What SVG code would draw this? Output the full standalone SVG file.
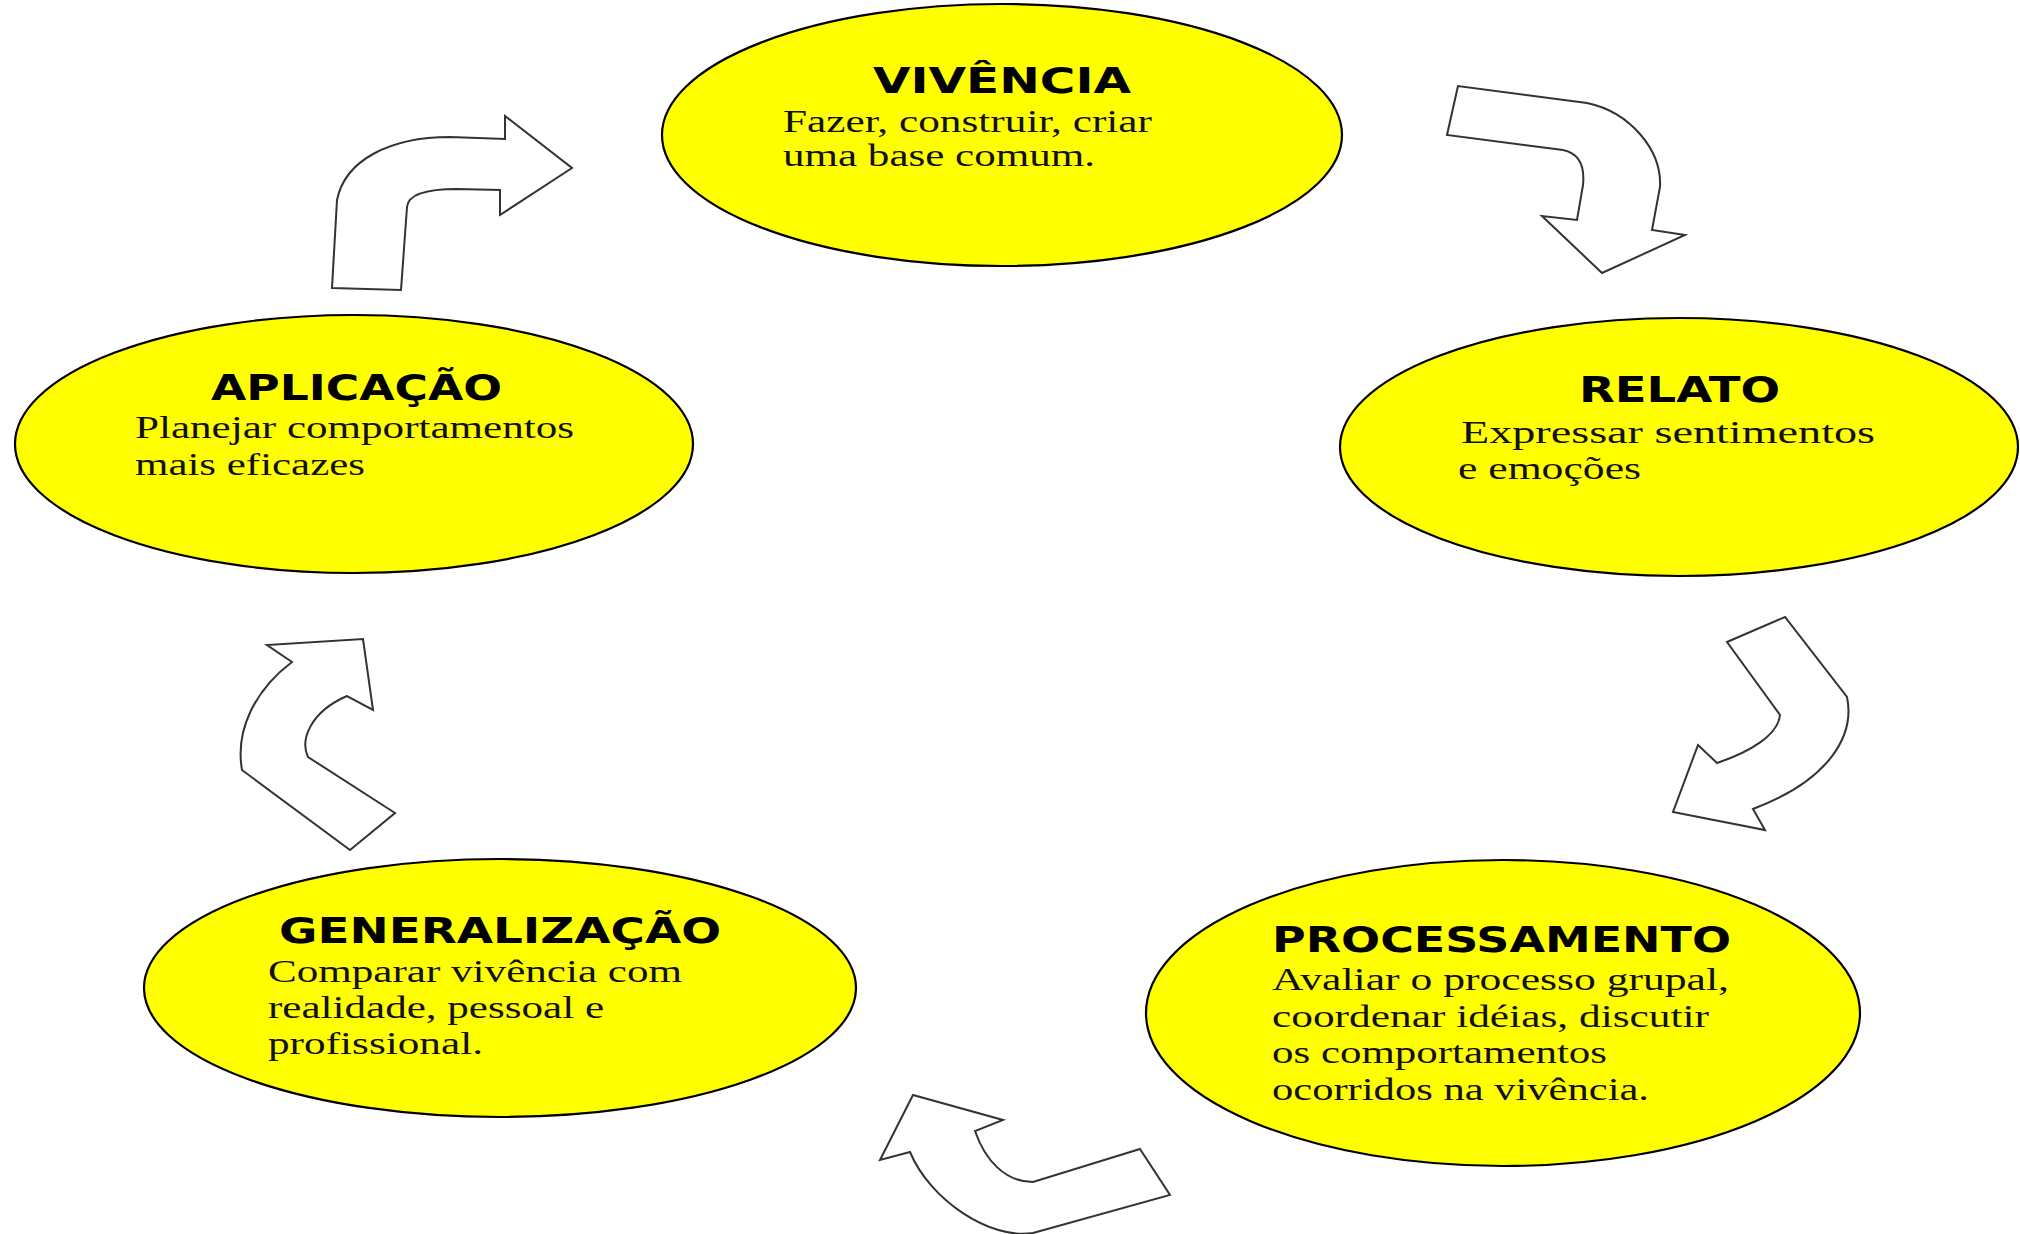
<svg xmlns="http://www.w3.org/2000/svg" width="2020" height="1234" viewBox="0 0 2020 1234">
<style>
.node ellipse{fill:#FFFF00;stroke:#000;stroke-width:2.2}
.title{font-family:"DejaVu Sans","Liberation Sans",sans-serif;font-weight:bold;font-size:35px;fill:#000}
.body{font-family:"Liberation Serif","Times New Roman",serif;font-size:31px;fill:#111}
.arrow{fill:#fff;stroke:#333;stroke-width:2;stroke-linejoin:miter}
</style>
<rect width="2020" height="1234" fill="#fff"/>
<g id="connectors">
<path class="arrow" d="M332,288 L401,290 L407,207 C408,195 425,189 457,189 L500,190 L500,215 L572,168 L505,116 L505,139 L450,137 C390,137 345,160 337,200 Z"/>
<path class="arrow" d="M1458,86 L1447,135 L1563,150 C1578,153 1585,165 1583,185 L1577,220 L1542,216 L1602,273 L1685,235 L1652,230 L1660,187 C1662,150 1630,112 1587,103 Z"/>
<path class="arrow" d="M1727,642 L1785,617 L1847,697 C1855,735 1830,780 1753,809 L1765,830 L1673,812 L1698,745 L1717,763 C1750,752 1778,735 1780,715 Z"/>
<path class="arrow" d="M1140,1149 L1170,1195 L1033,1233 C990,1240 930,1200 910,1152 L880,1160 L913,1095 L1003,1120 L975,1131 C985,1160 1005,1182 1033,1182 Z"/>
<path class="arrow" d="M350,850 L395,813 L308,757 C300,740 310,712 347,696 L373,710 L363,639 L267,645 L292,662 C255,690 235,730 242,770 Z"/>
</g>
<g id="vivencia" class="node">
<ellipse cx="1002" cy="135" rx="340" ry="131"/>
<text class="title" x="873" y="93" textLength="258" lengthAdjust="spacingAndGlyphs">VIVÊNCIA</text>
<text class="body" x="783" y="132" textLength="369" lengthAdjust="spacingAndGlyphs">Fazer, construir, criar</text>
<text class="body" x="783" y="166" textLength="312" lengthAdjust="spacingAndGlyphs">uma base comum.</text>
</g>
<g id="relato" class="node">
<ellipse cx="1679" cy="447" rx="339" ry="129"/>
<text class="title" x="1579" y="402" textLength="201" lengthAdjust="spacingAndGlyphs">RELATO</text>
<text class="body" x="1461" y="443" textLength="414" lengthAdjust="spacingAndGlyphs">Expressar sentimentos</text>
<text class="body" x="1458" y="479" textLength="183" lengthAdjust="spacingAndGlyphs">e emoções</text>
</g>
<g id="aplicacao" class="node">
<ellipse cx="354" cy="444" rx="339" ry="129"/>
<text class="title" x="211" y="400" textLength="291" lengthAdjust="spacingAndGlyphs">APLICAÇÃO</text>
<text class="body" x="135" y="438" textLength="439" lengthAdjust="spacingAndGlyphs">Planejar comportamentos</text>
<text class="body" x="135" y="475" textLength="230" lengthAdjust="spacingAndGlyphs">mais eficazes</text>
</g>
<g id="generalizacao" class="node">
<ellipse cx="500" cy="988" rx="356" ry="129"/>
<text class="title" x="279" y="943" textLength="442" lengthAdjust="spacingAndGlyphs">GENERALIZAÇÃO</text>
<text class="body" x="268" y="982" textLength="414" lengthAdjust="spacingAndGlyphs">Comparar vivência com</text>
<text class="body" x="268" y="1018" textLength="336" lengthAdjust="spacingAndGlyphs">realidade, pessoal e</text>
<text class="body" x="268" y="1054" textLength="215" lengthAdjust="spacingAndGlyphs">profissional.</text>
</g>
<g id="processamento" class="node">
<ellipse cx="1503" cy="1013" rx="357" ry="153"/>
<text class="title" x="1272" y="952" textLength="459" lengthAdjust="spacingAndGlyphs">PROCESSAMENTO</text>
<text class="body" x="1272" y="990" textLength="457" lengthAdjust="spacingAndGlyphs">Avaliar o processo grupal,</text>
<text class="body" x="1272" y="1027" textLength="437" lengthAdjust="spacingAndGlyphs">coordenar idéias, discutir</text>
<text class="body" x="1272" y="1063" textLength="335" lengthAdjust="spacingAndGlyphs">os comportamentos</text>
<text class="body" x="1272" y="1100" textLength="377" lengthAdjust="spacingAndGlyphs">ocorridos na vivência.</text>
</g>
</svg>
